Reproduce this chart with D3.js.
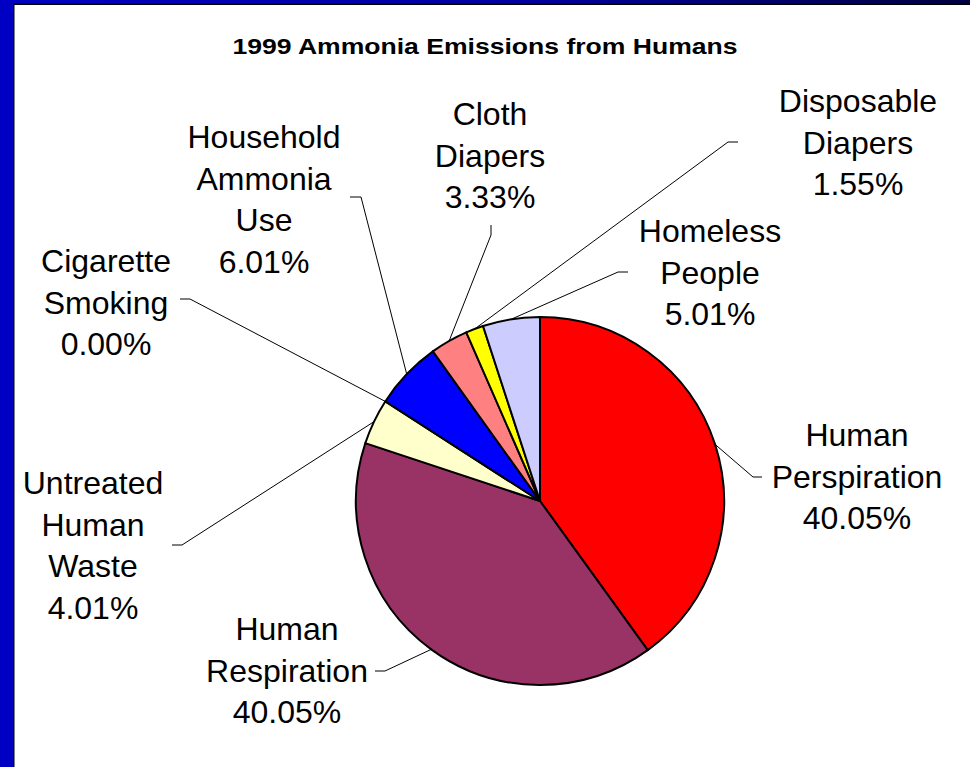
<!DOCTYPE html>
<html>
<head>
<meta charset="utf-8">
<script src="https://cdn.jsdelivr.net/npm/d3@7"></script>
<style>
  html, body { margin: 0; padding: 0; background: #0000c4; }
  svg { display: block; }
</style>
</head>
<body>
<svg id="chart" width="970" height="767"></svg>
<script>
// Sources of human-related ammonia emissions, 1999 (share of total, %)
const categories = [
  "Human Perspiration",
  "Human Respiration",
  "Untreated Human Waste",
  "Cigarette Smoking",
  "Household Ammonia Use",
  "Cloth Diapers",
  "Disposable Diapers",
  "Homeless People"
];
const shares = [40.05, 40.05, 4.01, 0.00, 6.01, 3.33, 1.55, 5.01];
const sliceColors = ["#ff0000", "#993366", "#ffffcc", "#00ffff", "#0000ff", "#ff8080", "#ffff00", "#ccccff"];
const title = "1999 Ammonia Emissions from Humans";

// Label placement: centre x, first baseline, and the leader's knee/end point
const labelLayout = [
  { cx: 857, y: 446, knee: [753, 477], end: [762, 477] },
  { cx: 287, y: 640, knee: [385, 671], end: [375, 671] },
  { cx: 93,  y: 494, knee: [182, 545], end: [172, 545] },
  { cx: 106, y: 272, knee: [190, 299], end: [180, 299] },
  { cx: 264, y: 148, knee: [361, 197], end: [350, 197] },
  { cx: 490, y: 125, knee: [491, 235], end: [491, 225] },
  { cx: 858, y: 112, knee: [728, 142], end: [738, 142] },
  { cx: 710, y: 242, knee: [618, 272], end: [628, 272] }
];

const W = 970, H = 767;
const svg = d3.select("#chart");
const font = "'Liberation Sans', Arial, Helvetica, sans-serif";

// Slide background: blue frame with a darkening top band
const defs = svg.append("defs");
const grad = defs.append("linearGradient").attr("id", "topband")
  .attr("x1", 0).attr("x2", 1).attr("y1", 0).attr("y2", 0);
grad.append("stop").attr("offset", "0%").attr("stop-color", "#0000c4");
grad.append("stop").attr("offset", "55%").attr("stop-color", "#0000a0");
grad.append("stop").attr("offset", "100%").attr("stop-color", "#000040");

svg.append("rect").attr("width", W).attr("height", H).attr("fill", "#0000c4");
svg.append("rect").attr("x", 0).attr("y", 0).attr("width", W).attr("height", 4)
  .attr("fill", "url(#topband)");

// Chart area with black edge
svg.append("rect").attr("x", 13).attr("y", 3.5).attr("width", W).attr("height", H)
  .attr("fill", "#000");
svg.append("rect").attr("x", 14.5).attr("y", 5).attr("width", W).attr("height", H)
  .attr("fill", "#fff");

// Title
svg.append("text")
  .attr("x", 485).attr("y", 54)
  .attr("text-anchor", "middle")
  .attr("font-family", font)
  .attr("font-weight", "bold")
  .attr("font-size", 22)
  .attr("textLength", 505)
  .attr("lengthAdjust", "spacingAndGlyphs")
  .attr("fill", "#000")
  .text(title);

// Pie
const cx = 540, cy = 501, r = 184;
const data = categories.map((c, i) => ({ name: c, value: shares[i], color: sliceColors[i], layout: labelLayout[i] }));
const pie = d3.pie().value(d => d.value).sort(null).startAngle(0).endAngle(2 * Math.PI);
const arcs = pie(data);
const arc = d3.arc().innerRadius(0).outerRadius(r);
const edgeArc = d3.arc().innerRadius(r).outerRadius(r);

const g = svg.append("g").attr("transform", `translate(${cx},${cy})`);
g.selectAll("path.slice")
  .data(arcs.filter(a => a.data.value > 0))
  .join("path")
  .attr("class", "slice")
  .attr("d", arc)
  .attr("fill", d => d.data.color)
  .attr("stroke", "#000")
  .attr("stroke-width", 2)
  .attr("stroke-linejoin", "round");

// Leader lines from each slice edge to its label
const line = d3.line();
svg.selectAll("path.leader")
  .data(arcs)
  .join("path")
  .attr("class", "leader")
  .attr("d", d => {
    const [ex, ey] = edgeArc.centroid(d);
    const L = d.data.layout;
    return line([[cx + ex, cy + ey], L.knee, L.end]);
  })
  .attr("fill", "none")
  .attr("stroke", "#000")
  .attr("stroke-width", 1);

// Labels: name words stacked, then the percentage
const fmt = d3.format(".2f");
const lineGap = 41.5;
const labels = svg.selectAll("text.lbl")
  .data(arcs)
  .join("text")
  .attr("class", "lbl")
  .attr("text-anchor", "middle")
  .attr("font-family", font)
  .attr("font-size", 32)
  .attr("fill", "#000");
labels.each(function(d) {
  const L = d.data.layout;
  const rows = d.data.name.split(" ").concat([fmt(d.data.value) + "%"]);
  d3.select(this).selectAll("tspan")
    .data(rows)
    .join("tspan")
    .attr("x", L.cx)
    .attr("y", (t, i) => L.y + i * lineGap)
    .text(t => t);
});
</script>
</body>
</html>
